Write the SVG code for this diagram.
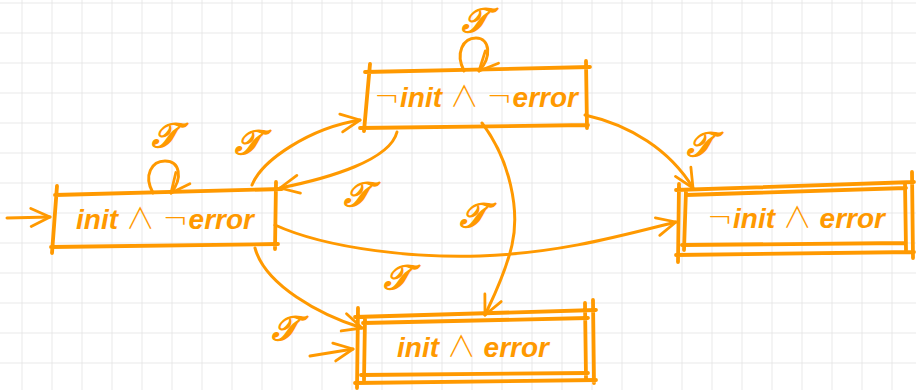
<svg xmlns="http://www.w3.org/2000/svg" width="916" height="390" viewBox="0 0 916 390">
<defs>
<pattern id="grid" x="21.5" y="2.5" width="30" height="30" patternUnits="userSpaceOnUse">
<path d="M0,0 H30 M0,0 V30" fill="none" stroke="#e3e3e3" stroke-width="1.6"/>
</pattern>
<marker id="chev" viewBox="0 0 24 24" refX="21" refY="12" markerWidth="24" markerHeight="24" markerUnits="userSpaceOnUse" orient="auto">
<path d="M2,3 L21,12 L2,21" fill="none" stroke="#ff9900" stroke-width="2.8" stroke-linecap="round" stroke-linejoin="round"/>
</marker>
</defs>
<style>
.bx{fill:none;stroke:#ff9900;stroke-width:3.8;stroke-linecap:round}
.ed{fill:none;stroke:#ff9900;stroke-width:3;stroke-linecap:round;marker-end:url(#chev)}
.lb{font-family:"Liberation Sans",Arial,sans-serif;font-weight:bold;font-style:italic;font-size:28px;fill:#ff9900;text-anchor:middle}
.op{font-family:"DejaVu Sans",sans-serif;font-weight:200;font-style:normal;font-size:31px}
.an{font-family:"Noto Sans CJK JP","DejaVu Sans",sans-serif;font-weight:300;font-style:normal;font-size:29px}
.t{font-family:"DejaVu Serif","Liberation Serif",serif;font-style:italic;font-size:34px;fill:#ff9900;stroke:#ff9900;stroke-width:1.6;text-anchor:middle}
</style>
<rect width="916" height="390" fill="#ffffff"/>
<rect width="916" height="390" fill="url(#grid)"/>

<g id="connectors">
<path class="ed" d="M7,218 L50,217"/>
<path class="ed" d="M310,356 L353,349"/>
<path class="ed" d="M252,185 C262,160 310,128 360,120"/>
<path class="ed" d="M397,132 C390,160 330,178 280,188"/>
<path class="ed" d="M585,115 C630,125 670,150 693,188"/>
<path class="ed" d="M275,225 C330,250 420,258 480,256 C560,253 620,236 676,222"/>
<path class="ed" d="M482,123 C510,160 520,210 512,245 C505,275 492,300 485,315"/>
<path class="ed" d="M255,248 C265,285 320,315 362,328"/>
<path class="ed" d="M153,193 C143,175 152,161 165,161 C180,161 183,178 171,193"/>
<path class="ed" d="M464,71 C455,53 463,38 476,38 C490,38 492,57 479,71"/>
<text class="t" x="165" y="147">𝒯</text>
<text class="t" x="248" y="154">𝒯</text>
<text class="t" x="475" y="32">𝒯</text>
<text class="t" x="357" y="206">𝒯</text>
<text class="t" x="700" y="156">𝒯</text>
<text class="t" x="473" y="227">𝒯</text>
<text class="t" x="397" y="289">𝒯</text>
<text class="t" x="285" y="340">𝒯</text>
</g>

<g id="nodeA">
<path class="bx" d="M55,195 L282,189 M57,186 L52,253 M51,247 L278,244 M276,182 L275,249"/>
<text class="lb" x="165" y="229">init <tspan class="an">∧</tspan> <tspan class="op">¬</tspan>error</text>
</g>
<g id="nodeB">
<path class="bx" d="M365,72 L590,67 M370,64 L364,131 M360,128 L588,125 M586,61 L587,128"/>
<text class="lb" x="476" y="107"><tspan class="op">¬</tspan>init <tspan class="an">∧</tspan> <tspan class="op">¬</tspan>error</text>
</g>
<g id="nodeC">
<path class="bx" d="M676,190 L914,182 M686,195 L906,188 M679,184 L678,262 M686,190 L684,250 M682,245 L906,243 M676,255 L914,252 M905,183 L906,250 M912,172 L913,258"/>
<text class="lb" x="796" y="228"><tspan class="op">¬</tspan>init <tspan class="an">∧</tspan> error</text>
</g>
<g id="nodeD">
<path class="bx" d="M355,317 L596,310 M363,323 L588,318 M358,308 L357,388 M365,318 L364,380 M361,375 L588,373 M355,383 L596,380 M585,303 L586,378 M593,300 L594,383"/>
<text class="lb" x="473" y="357">init <tspan class="an">∧</tspan> error</text>
</g>
</svg>
